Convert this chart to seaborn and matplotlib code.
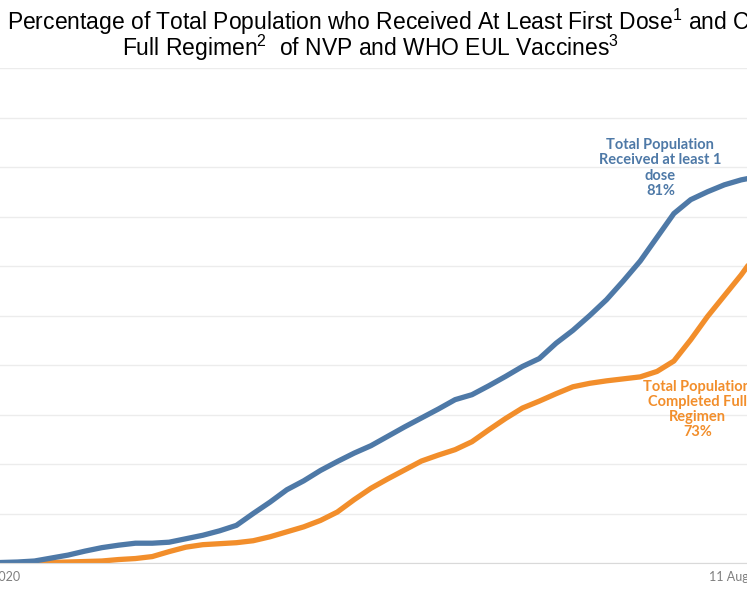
import pandas as pd
import matplotlib.pyplot as plt
import seaborn as sns

# 5-day snapshots
dates = ['2020-12-30', '2021-01-04', '2021-01-09', '2021-01-14', '2021-01-19', '2021-01-24',
         '2021-01-29', '2021-02-03', '2021-02-08', '2021-02-13', '2021-02-18', '2021-02-23',
         '2021-02-28', '2021-03-05', '2021-03-10', '2021-03-15', '2021-03-20', '2021-03-25',
         '2021-03-30', '2021-04-04', '2021-04-09', '2021-04-14', '2021-04-19', '2021-04-24',
         '2021-04-29', '2021-05-04', '2021-05-09', '2021-05-14', '2021-05-19', '2021-05-24',
         '2021-05-29', '2021-06-03', '2021-06-08', '2021-06-13', '2021-06-18', '2021-06-23',
         '2021-06-28', '2021-07-03', '2021-07-08', '2021-07-13', '2021-07-18', '2021-07-23',
         '2021-07-28', '2021-08-02', '2021-08-07', '2021-08-12', '2021-08-15']

first_dose = [0.0, 0.1, 0.2, 0.4, 1.0, 1.6, 2.4, 3.1, 3.6, 4.0, 4.0, 4.2,
              4.9, 5.6, 6.5, 7.6, 10.0, 12.3, 14.8, 16.6, 18.7, 20.5, 22.2, 23.7,
              25.6, 27.5, 29.3, 31.1, 33.0, 34.0, 35.8, 37.7, 39.7, 41.3, 44.4, 47.0,
              50.0, 53.2, 57.0, 61.0, 65.8, 70.6, 73.4, 75.0, 76.4, 77.4, 77.8]

full_regimen = [0.0, 0.0, 0.0, 0.0, 0.1, 0.2, 0.3, 0.4, 0.7, 0.9, 1.3, 2.3,
                3.2, 3.7, 3.9, 4.1, 4.5, 5.3, 6.3, 7.3, 8.6, 10.3, 12.8, 15.1,
                17.0, 18.8, 20.6, 21.8, 22.9, 24.5, 26.9, 29.2, 31.3, 32.7, 34.2, 35.6,
                36.3, 36.8, 37.2, 37.6, 38.7, 40.8, 45.1, 49.8, 54.0, 58.2, 61.0]

blue = '#4e79a7'
orange = '#f28e2b'

df = pd.DataFrame({'date': pd.to_datetime(dates), 'Received at least 1 dose': first_dose,
                   'Completed Full Regimen': full_regimen})
df = df.melt(id_vars='date', var_name='series', value_name='pct')

sns.set_style('white')
plt.rcParams['mathtext.fontset'] = 'custom'
plt.rcParams['mathtext.rm'] = 'Liberation Sans'

fig = plt.figure(figsize=(7.47, 5.98), dpi=100)
ax = fig.add_axes([-16 / 747, 35 / 598, 774 / 747, 495 / 598])

sns.lineplot(data=df, x='date', y='pct', hue='series',
             hue_order=['Completed Full Regimen', 'Received at least 1 dose'],
             palette=[orange, blue], linewidth=3.8, legend=False, ax=ax)

ax.set_xlim(pd.Timestamp('2020-12-30'), pd.Timestamp('2021-08-17'))
ax.set_ylim(0, 100)
ax.set_yticks(range(0, 101, 10))
ax.set_yticklabels([])
ax.tick_params(axis='y', length=0)
ax.yaxis.grid(True, color='#ececec', linewidth=1)
ax.set_axisbelow(True)

ax.set_xticks([pd.Timestamp('2020-12-30'), pd.Timestamp('2021-08-13')])
ax.set_xticklabels(['30 Dec 2020', '11 Aug 2021'], fontsize=9, color='#7f7f7f', family='Lato')
ax.tick_params(axis='x', length=0, pad=6)
ax.set_xlabel('')
ax.set_ylabel('')

for s in ['top', 'left', 'right']:
    ax.spines[s].set_visible(False)
ax.spines['bottom'].set_color('#d9d9d9')

ax.text(pd.Timestamp('2021-07-19'), 79.8, 'Total Population\nReceived at least 1\ndose\n81%',
        ha='center', va='center', color=blue, fontsize=10.5, fontweight='bold',
        family='Lato', linespacing=1.1)
ax.text(pd.Timestamp('2021-07-30'), 31.0, 'Total Population\nCompleted Full\nRegimen\n73%',
        ha='center', va='center', color=orange, fontsize=10.5, fontweight='bold',
        family='Lato', linespacing=1.1)

fig.text(7 / 747, 1 - 22 / 598,
         r'Percentage of Total Population who Received At Least First Dose$^{1}$ and Completed',
         ha='left', va='center', fontsize=16.5, family='Liberation Sans', color='#000000')
fig.text(370 / 747, 1 - 48 / 598, r'Full Regimen$^{2}$  of NVP and WHO EUL Vaccines$^{3}$',
         ha='center', va='center', fontsize=16.5, family='Liberation Sans', color='#000000')

fig.savefig('out.png', dpi=100)
